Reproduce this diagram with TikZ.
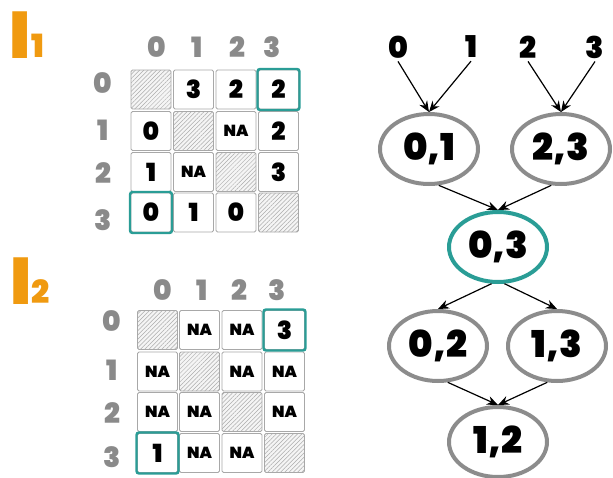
\documentclass[tikz,border=0pt]{standalone}
\usepackage{fontspec}
\setmainfont{Poppins}
\newfontfamily\heavy{Poppins Black}
\usetikzlibrary{patterns.meta,arrows.meta,shapes.geometric}
\definecolor{teal1}{HTML}{2A9D96}
\definecolor{orange1}{HTML}{F09A10}
\definecolor{hdr}{HTML}{8A8A8A}
\definecolor{cellline}{HTML}{A8A8A8}
\definecolor{ring}{HTML}{8C8C8C}
\tikzset{
  cellbox/.style={draw=cellline, line width=0.8pt, rounded corners=1.5pt,
    minimum width=40pt, minimum height=39pt, inner sep=0pt, fill=white,
    font=\heavy\fontsize{25}{25}\selectfont},
  nabox/.style={cellbox, font=\heavy\fontsize{16}{16}\selectfont},
  diagbox/.style={cellbox, fill=gray!8,
    postaction={pattern={Lines[angle=45,distance=3pt,line width=0.5pt]}, pattern color=gray!65}},
  pick/.style={draw=teal1, line width=2.4pt, rounded corners=2.5pt,
    minimum width=42pt, minimum height=41pt},
  hdrlabel/.style={text=hdr, font=\heavy\fontsize{28}{28}\selectfont, inner sep=0pt},
  setlabel/.style={text=orange1, font=\heavy\fontsize{66}{66}\selectfont, inner sep=0pt},
  sublabel/.style={text=orange1, font=\heavy\fontsize{32}{32}\selectfont, inner sep=0pt},
  pairnode/.style={ellipse, draw=ring, line width=4pt, fill=white,
    minimum width=98pt, minimum height=70pt, inner sep=0pt,
    font=\heavy\fontsize{37}{37}\selectfont},
  toplabel/.style={font=\heavy\fontsize{30}{30}\selectfont, inner sep=0pt},
  link/.style={-{Stealth[length=11pt,width=9pt]}, line width=1.2pt}
}
\begin{document}
\begin{tikzpicture}[x=1pt,y=-1pt]
\useasboundingbox (0,0) rectangle (613,477);

% ---------- first matrix ----------
\node[setlabel] (s1) at (20,35) {I};
\node[sublabel] (s1n) at (38,46) {1};
\foreach \t/\x in {0/157,1/197,2/237,3/272}
  \node[hdrlabel] (ac\t) at (\x,47) {\t};
\foreach \t/\y in {0/83,1/130,2/173,3/220}
  \node[hdrlabel] (ar\t) at (103,\y) {\t};

\foreach \c/\x in {0/151,1/193.5,2/236,3/278.5}
  \foreach \r/\y in {0/89.5,1/131,2/172,3/212.5}
    \coordinate (ap\r\c) at (\x,\y);

\node[diagbox] (a00) at (ap00) {};
\node[cellbox] (a01) at (ap01) {3};
\node[cellbox] (a02) at (ap02) {2};
\node[cellbox] (a03) at (ap03) {2};
\node[cellbox] (a10) at (ap10) {0};
\node[diagbox] (a11) at (ap11) {};
\node[nabox]   (a12) at (ap12) {NA};
\node[cellbox] (a13) at (ap13) {2};
\node[cellbox] (a20) at (ap20) {1};
\node[nabox]   (a21) at (ap21) {NA};
\node[diagbox] (a22) at (ap22) {};
\node[cellbox] (a23) at (ap23) {3};
\node[cellbox] (a30) at (ap30) {0};
\node[cellbox] (a31) at (ap31) {1};
\node[cellbox] (a32) at (ap32) {0};
\node[diagbox] (a33) at (ap33) {};
\node[pick] (ah1) at (ap03) {};
\node[pick] (ah2) at (ap30) {};

% ---------- second matrix ----------
\node[setlabel] (s2) at (21,281) {I};
\node[sublabel] (s2n) at (41,292) {2};
\foreach \t/\x in {0/163,1/202,2/239,3/277}
  \node[hdrlabel] (bc\t) at (\x,290) {\t};
\foreach \t/\y in {0/321,1/370,2/413,3/457}
  \node[hdrlabel] (br\t) at (112,\y) {\t};

\foreach \c/\x in {0/157.5,1/199.5,2/242,3/284.5}
  \foreach \r/\y in {0/330,1/371.5,2/412,3/453}
    \coordinate (bp\r\c) at (\x,\y);

\node[diagbox] (b00) at (bp00) {};
\node[nabox]   (b01) at (bp01) {NA};
\node[nabox]   (b02) at (bp02) {NA};
\node[cellbox] (b03) at (bp03) {3};
\node[nabox]   (b10) at (bp10) {NA};
\node[diagbox] (b11) at (bp11) {};
\node[nabox]   (b12) at (bp12) {NA};
\node[nabox]   (b13) at (bp13) {NA};
\node[nabox]   (b20) at (bp20) {NA};
\node[nabox]   (b21) at (bp21) {NA};
\node[diagbox] (b22) at (bp22) {};
\node[nabox]   (b23) at (bp23) {NA};
\node[cellbox] (b30) at (bp30) {1};
\node[nabox]   (b31) at (bp31) {NA};
\node[nabox]   (b32) at (bp32) {NA};
\node[diagbox] (b33) at (bp33) {};
\node[pick] (bh1) at (bp03) {};
\node[pick] (bh2) at (bp30) {};

% ---------- merge tree ----------
\node[toplabel] (t0) at (398,47) {0};
\node[toplabel] (t1) at (471,47) {1};
\node[toplabel] (t2) at (528,47) {2};
\node[toplabel] (t3) at (595,47) {3};

\node[pairnode] (e01) at (429,149) {0,1};
\node[pairnode] (e23) at (561,149) {2,3};
\node[pairnode, draw=teal1] (e03) at (498,247) {0,3};
\node[pairnode] (e02) at (438,346) {0,2};
\node[pairnode] (e13) at (557,346) {1,3};
\node[pairnode] (e12) at (498,442) {1,2};

\draw[link] (t0.south) ++(0,3) -- (e01.north);
\draw[link] (t1.south) ++(0,3) -- (e01.north);
\draw[link] (t2.south) ++(0,3) -- (e23.north);
\draw[link] (t3.south) ++(0,3) -- (e23.north);
\draw[link] (e01.-75) -- (e03.north);
\draw[link] (e23.-105) -- (e03.north);
\draw[link] (e03.-100) -- (e02.north);
\draw[link] (e03.-80) -- (e13.north);
\draw[link] (e02.-75) -- (e12.north);
\draw[link] (e13.-105) -- (e12.north);
\end{tikzpicture}
\end{document}
